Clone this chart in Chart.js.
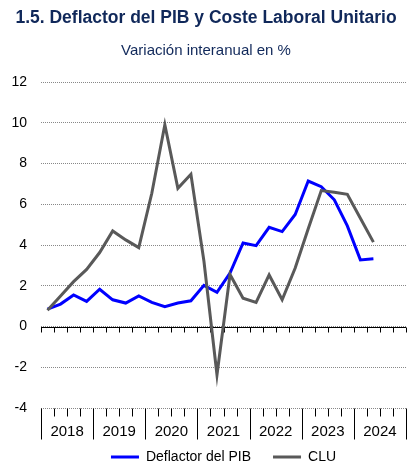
<!DOCTYPE html>
<html>
<head>
<meta charset="utf-8">
<script src="https://cdn.jsdelivr.net/npm/chart.js@4.4.1/dist/chart.umd.min.js"></script>
<style>
  html, body { margin: 0; padding: 0; background: #ffffff; }
  #wrap { width: 412px; height: 467px; position: relative; }
</style>
</head>
<body>
<div id="wrap"><canvas id="c" width="412" height="467"></canvas></div>
<script>
// ---- data ----
const quarters = [
  'I-2018','II-2018','III-2018','IV-2018',
  'I-2019','II-2019','III-2019','IV-2019',
  'I-2020','II-2020','III-2020','IV-2020',
  'I-2021','II-2021','III-2021','IV-2021',
  'I-2022','II-2022','III-2022','IV-2022',
  'I-2023','II-2023','III-2023','IV-2023',
  'I-2024','II-2024','III-2024','IV-2024'
];
const years = ['2018','2019','2020','2021','2022','2023','2024'];
const deflactorPIB = [0.85, 1.1, 1.55, 1.23, 1.83, 1.31, 1.15, 1.5, 1.18, 0.97, 1.15, 1.26,
                      2.02, 1.68, 2.62, 4.1, 3.97, 4.87, 4.66, 5.5, 7.14, 6.86, 6.22, 4.94, 3.27, 3.32];
const clu = [0.8, 1.5, 2.2, 2.8, 3.63, 4.69, 4.25, 3.87, 6.54, 9.9, 6.78, 7.47,
             3.2, -2.37, 2.55, 1.39, 1.18, 2.53, 1.31, 2.87, 4.8, 6.67, 6.59, 6.49, 5.31, 4.14];
const yTicks = [-4, -2, 0, 2, 4, 6, 8, 10, 12];

const FONT = "'Liberation Sans', Arial, sans-serif";
const NAVY = '#10285a';

// draws the zero axis with quarter ticks, and the bottom category band (quarter ticks, year dividers, year labels)
const axisDecor = {
  id: 'axisDecor',
  beforeDatasetsDraw(chart) {
    const { ctx, chartArea: ca, scales: { x, y } } = chart;
    const n = quarters.length;
    const step = x.getPixelForValue(1) - x.getPixelForValue(0);
    const bound = i => Math.round(x.getPixelForValue(i) - step / 2) + 0.5;
    const y0 = Math.round(y.getPixelForValue(0)) + 0.5;
    const yb = Math.round(y.getPixelForValue(yTicks[0])) + 0.5;
    ctx.save();
    ctx.strokeStyle = '#000';
    ctx.lineWidth = 1;
    ctx.beginPath();
    ctx.moveTo(ca.left, y0); ctx.lineTo(ca.right, y0);
    for (let i = 0; i <= n; i++) {
      const px = bound(i);
      ctx.moveTo(px, y0); ctx.lineTo(px, y0 + 5);
    }
    for (let i = 0; i <= n; i++) {
      const px = bound(i);
      const len = (i % 4 === 0) ? 31 : 8;
      ctx.moveTo(px, yb); ctx.lineTo(px, yb + len);
    }
    ctx.stroke();
    ctx.fillStyle = '#000';
    ctx.font = '15px ' + FONT;
    ctx.textAlign = 'center';
    ctx.textBaseline = 'middle';
    years.forEach((yr, k) => {
      const cx = (x.getPixelForValue(4 * k + 1) + x.getPixelForValue(4 * k + 2)) / 2;
      ctx.fillText(yr, cx, yb + 23);
    });
    ctx.restore();
  }
};

new Chart(document.getElementById('c'), {
  type: 'line',
  data: {
    labels: quarters,
    datasets: [
      { label: 'Deflactor del PIB', data: deflactorPIB, borderColor: '#0000ff', backgroundColor: '#0000ff',
        borderWidth: 3, pointRadius: 0, tension: 0, order: 1 },
      { label: 'CLU', data: clu, borderColor: '#595959', backgroundColor: '#595959',
        borderWidth: 3, pointRadius: 0, tension: 0, order: 0 }
    ]
  },
  options: {
    responsive: false,
    animation: false,
    events: [],
    layout: { padding: { left: 0, right: 0, top: 0, bottom: -7 } },
    scales: {
      x: {
        type: 'category',
        offset: true,
        display: true,
        grid: { display: false },
        border: { display: false },
        ticks: { display: false },
        afterFit: s => { s.height = 20; }
      },
      y: {
        min: -4, max: 12,
        afterBuildTicks: s => { s.ticks = yTicks.map(v => ({ value: v })); },
        grid: { color: '#888888', drawTicks: false, lineWidth: 1 },
        border: { display: false, dash: [1, 1] },
        ticks: { color: '#000', font: { family: FONT, size: 14 }, padding: 14 },
        afterFit: s => { s.width = 41; }
      },
      yR: {
        position: 'right',
        min: 0, max: 1,
        display: true,
        grid: { display: false },
        border: { display: false },
        ticks: { display: false },
        afterFit: s => { s.width = 6; }
      }
    },
    plugins: {
      title: {
        display: true,
        text: '1.5. Deflactor del PIB y Coste Laboral Unitario',
        color: NAVY,
        font: { family: FONT, size: 17.5, weight: 'bold' },
        padding: { top: 7.5, bottom: 13.5 }
      },
      subtitle: {
        display: true,
        text: 'Variación interanual en %',
        color: NAVY,
        font: { family: FONT, size: 15, weight: 'normal' },
        padding: { top: 0, bottom: 22 }
      },
      legend: {
        position: 'bottom',
        fullSize: false,
        labels: {
          color: '#000',
          font: { family: FONT, size: 14 },
          boxWidth: 28,
          boxHeight: 0,
          padding: 22,
          sort: (a, b) => a.datasetIndex - b.datasetIndex
        }
      },
      tooltip: { enabled: false }
    }
  },
  plugins: [axisDecor]
});
</script>
</body>
</html>
